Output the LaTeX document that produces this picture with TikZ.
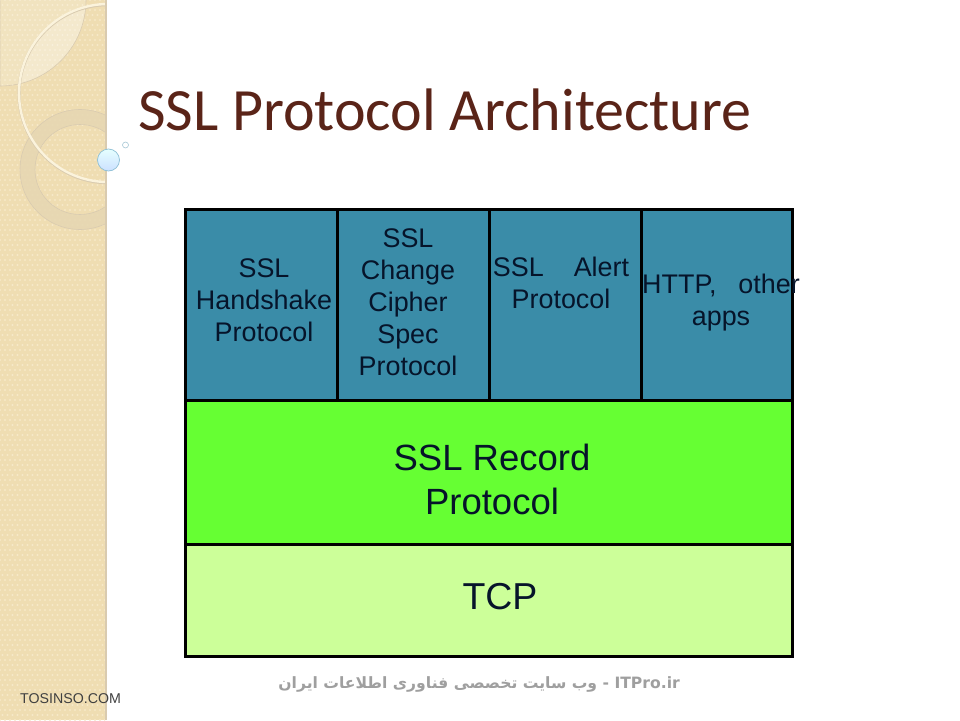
\documentclass[tikz,border=0pt]{standalone}
\usepackage{fontspec}
\setmainfont{Liberation Sans}
\newfontfamily\titlefont{Carlito}
\newfontfamily\arabicfont[Script=Arabic]{DejaVu Sans}
\TeXXeTstate=1
\usetikzlibrary{shadings}
\definecolor{sidebar}{HTML}{EFDDB2}
\definecolor{sidedot}{HTML}{F6E8C8}
\definecolor{sideedge}{HTML}{D9CBB0}
\definecolor{ringc}{HTML}{E6D7B2}
\definecolor{arcc}{HTML}{FBF3DC}
\definecolor{titlec}{HTML}{5A2418}
\definecolor{cellc}{HTML}{3A8CA8}
\definecolor{recordc}{HTML}{66FF33}
\definecolor{tcpc}{HTML}{CCFF99}
\definecolor{inkc}{HTML}{06142A}
\tikzset{
  cellbox/.style={draw=black,line width=3pt,outer sep=0pt,fill=cellc,minimum height=191pt,anchor=north west,inner sep=0pt},
  bandbox/.style={draw=black,line width=3pt,outer sep=0pt,anchor=north west,minimum width=607pt,inner sep=0pt},
  smalltext/.style={font=\fontsize{26.9}{32}\selectfont,text=inkc,align=center,inner sep=0pt},
  bigtext/.style={font=\fontsize{36.5}{44}\selectfont,text=inkc,align=center,inner sep=0pt},
}
\begin{document}
\begin{tikzpicture}[x=1pt,y=-1pt]
\useasboundingbox (0,0) rectangle (960,720);
\fill[white] (0,0) rectangle (960,720);
% sidebar
\fill[sidebar] (0,0) rectangle (105,720);
\begin{scope}
\clip (0,0) rectangle (105,720);
\foreach \i in {0,...,22}{
  \foreach \j in {0,...,150}{
    \fill[sidedot] ({\i*5+mod(\j,2)*2.5},{\j*5}) circle[radius=1.1];
  }
}
% lighter corner
\fill[white,opacity=.18] (0,0) -- (86,0) arc[start angle=0,end angle=90,radius=86] -- cycle;
\begin{scope}
  \clip (108,93) circle[radius=89];
  \fill[white,opacity=.22] (0,0) -- (86,0) arc[start angle=0,end angle=90,radius=86] -- cycle;
\end{scope}
\draw[sideedge,line width=.6pt] (86,0) arc[start angle=0,end angle=90,radius=86] -- (0,0);
% ring
\fill[ringc,even odd rule,opacity=.85] (80,169.5) circle[radius=60] (80,169.5) circle[radius=45];
\draw[sideedge,line width=.6pt] (80,169.5) circle[radius=60] (80,169.5) circle[radius=45];
% big circle
\draw[sideedge,line width=3pt] (108,93.7) circle[radius=89];
\draw[arcc,line width=2.4pt] (108,93) circle[radius=89];
\end{scope}
\fill[sideedge] (105,0) rectangle (106.5,720);
% bubbles
\node[circle,minimum size=22pt,inner sep=0pt,draw=cyan!50!gray!70,line width=.7pt,
  top color=cyan!10!white,bottom color=cyan!40!blue!20!white] (bubble) at (108.5,160) {};
\node[circle,minimum size=6pt,inner sep=0pt,draw=gray!60!cyan!60,line width=.6pt,fill=white] (bubblesmall) at (125.5,145) {};
% title
\node[anchor=base west,inner sep=0pt,text=titlec,font=\titlefont\fontsize{60}{64}\selectfont] (title) at (138,130) {SSL Protocol Architecture};
% boxes
\node[cellbox,minimum width=152pt] (cella) at (185,209) {};
\node[cellbox,minimum width=152pt] (cellb) at (337,209) {};
\node[cellbox,minimum width=152pt] (cellc) at (489,209) {};
\node[cellbox,minimum width=151pt] (celld) at (641,209) {};
\node[bandbox,fill=recordc,minimum height=144pt] (record) at (185,400) {};
\node[bandbox,fill=tcpc,minimum height=112pt] (tcp) at (185,544) {};
% labels
\node[smalltext] (la) at (264,300) {SSL\\Handshake\\Protocol};
\node[smalltext] (lb) at (408,302) {SSL\\Change\\Cipher\\Spec\\Protocol};
\node[smalltext] (lc) at (561,283) {SSL\hspace{30pt}Alert\\Protocol};
\node[smalltext] (ld) at (721,303) {HTTP,\hspace{22pt}other\\apps};
\node[bigtext] (lr) at (492,479) {SSL Record\\Protocol};
\node[bigtext,font=\fontsize{37.5}{44}\selectfont] (lt) at (500,597) {TCP};
% watermarks
\node[inner sep=0pt,anchor=east,text=gray!75,font=\arabicfont\bfseries\fontsize{15.6}{18}\selectfont] (wm) at (680,684)
  {\beginR\beginL ITPro.ir\endL{} - وب سایت تخصصی فناوری اطلاعات ایران\endR};
\node[inner sep=0pt,anchor=west,text=black!75,font=\fontsize{14.2}{16}\selectfont] (ts) at (20,699) {TOSINSO.COM};
\end{tikzpicture}
\end{document}
